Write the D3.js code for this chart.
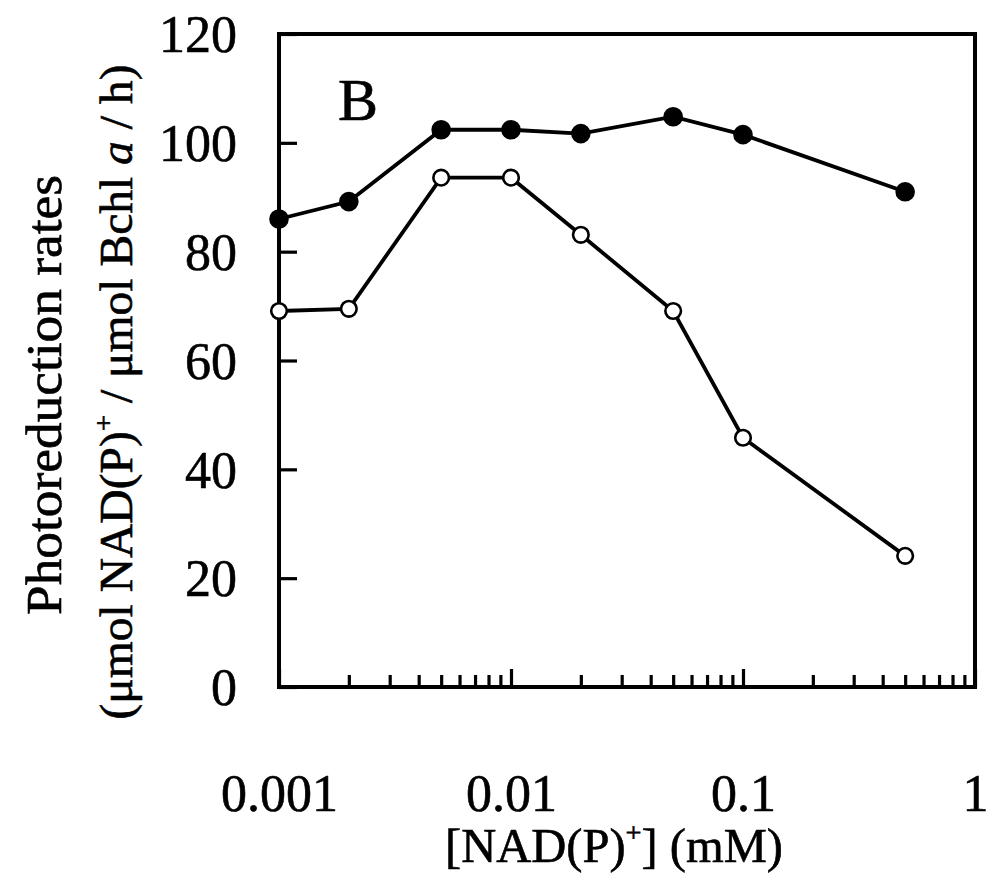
<!DOCTYPE html>
<html>
<head>
<meta charset="utf-8">
<script src="https://cdn.jsdelivr.net/npm/d3@7"></script>
<style>
  body { margin: 0; background: #fff; }
  svg text { font-family: "Liberation Serif", "Times New Roman", serif; fill: #000; stroke: #000; stroke-width: 0.6px; }
</style>
</head>
<body>
<svg id="chart" width="992" height="879"></svg>
<script>
// [NAD(P)+] concentrations (mM)
const conc = [0.001, 0.002, 0.005, 0.01, 0.02, 0.05, 0.1, 0.5];
// photoreduction rates, filled circles
const filledRates = [86.0, 89.2, 102.4, 102.4, 101.7, 104.8, 101.5, 91.0];
// photoreduction rates, open circles
const openRates = [69.1, 69.5, 93.6, 93.6, 83.1, 69.1, 45.8, 24.1];

const xMajor = [0.001, 0.01, 0.1, 1];
const xMajorLabels = ["0.001", "0.01", "0.1", "1"];
const yTicks = [0, 20, 40, 60, 80, 100, 120];

const plot = {left: 279, right: 975, top: 34, bottom: 687};

const svg = d3.select("#chart");

const x = d3.scaleLog().domain([0.001, 1]).range([plot.left, plot.right]);
const y = d3.scaleLinear().domain([0, 120]).range([plot.bottom, plot.top]);

// minor ticks 2..9 for each decade
let xMinor = [];
xMajor.slice(0, -1).forEach(d => {
    for (let k = 2; k <= 9; k++) xMinor.push(d * k);
});

// x axis - minor ticks inward
svg.append("g")
    .attr("transform", `translate(0,${plot.bottom})`)
    .call(d3.axisBottom(x).tickValues(xMinor).tickSize(-12).tickFormat(""))
    .call(g => g.select(".domain").remove())
    .call(g => g.selectAll("line").attr("stroke", "#000").attr("stroke-width", 3.2));

// x axis - major ticks and labels
svg.append("g")
    .attr("transform", `translate(0,${plot.bottom})`)
    .call(d3.axisBottom(x).tickValues(xMajor).tickSize(-18).tickPadding(87)
        .tickFormat((d, i) => xMajorLabels[i]))
    .call(g => g.select(".domain").remove())
    .call(g => g.selectAll("line").attr("stroke", "#000").attr("stroke-width", 3.2))
    .call(g => g.selectAll("text").attr("font-size", 52)
        .attr("font-family", "Liberation Serif, serif"));

// y axis
svg.append("g")
    .attr("transform", `translate(${plot.left},0)`)
    .call(d3.axisLeft(y).tickValues(yTicks).tickSize(-18).tickPadding(42))
    .call(g => g.select(".domain").remove())
    .call(g => g.selectAll("line").attr("stroke", "#000").attr("stroke-width", 3.2))
    .call(g => g.selectAll("text").attr("font-size", 52).attr("dy", "0.34em")
        .attr("font-family", "Liberation Serif, serif"));

// frame
svg.append("rect")
    .attr("x", plot.left).attr("y", plot.top)
    .attr("width", plot.right - plot.left).attr("height", plot.bottom - plot.top)
    .attr("fill", "none").attr("stroke", "#000").attr("stroke-width", 4);

const line = d3.line().x(d => x(d[0])).y(d => y(d[1]));

function series(vals, fill) {
    const pts = conc.map((c, i) => [c, vals[i]]);
    svg.append("path")
        .datum(pts)
        .attr("d", line)
        .attr("fill", "none")
        .attr("stroke", "#000")
        .attr("stroke-width", 3.8);
    svg.append("g").selectAll("circle")
        .data(pts)
        .join("circle")
        .attr("cx", d => x(d[0]))
        .attr("cy", d => y(d[1]))
        .attr("r", fill === "#000" ? 8.5 : 7.8)
        .attr("fill", fill)
        .attr("stroke", "#000")
        .attr("stroke-width", 2.6);
}
series(openRates, "#fff");
series(filledRates, "#000");

// panel letter
svg.append("text")
    .attr("x", 338).attr("y", 120)
    .attr("font-size", 60)
    .text("B");

// x title
const xt = svg.append("text")
    .attr("x", 614).attr("y", 862)
    .attr("text-anchor", "middle")
    .attr("font-size", 48)
    .attr("textLength", 338).attr("lengthAdjust", "spacingAndGlyphs");
xt.append("tspan").text("[NAD(P)");
xt.append("tspan").attr("font-size", 28).attr("dy", -20).text("+");
xt.append("tspan").attr("dy", 20).text("] (mM)");

// y title, two lines
svg.append("text")
    .attr("transform", "translate(61,395) rotate(-90)")
    .attr("text-anchor", "middle")
    .attr("font-size", 50)
    .attr("textLength", 440).attr("lengthAdjust", "spacingAndGlyphs")
    .text("Photoreduction rates");

const yt2 = svg.append("text")
    .attr("transform", "translate(132,392) rotate(-90)")
    .attr("text-anchor", "middle")
    .attr("font-size", 46)
    .attr("textLength", 655).attr("lengthAdjust", "spacingAndGlyphs");
yt2.append("tspan").text("(μmol NAD(P)");
yt2.append("tspan").attr("font-size", 28).attr("dy", -19).text("+");
yt2.append("tspan").attr("dy", 19).text(" / μmol Bchl ");
yt2.append("tspan").attr("font-style", "italic").text("a");
yt2.append("tspan").text(" / h)");
</script>
</body>
</html>
